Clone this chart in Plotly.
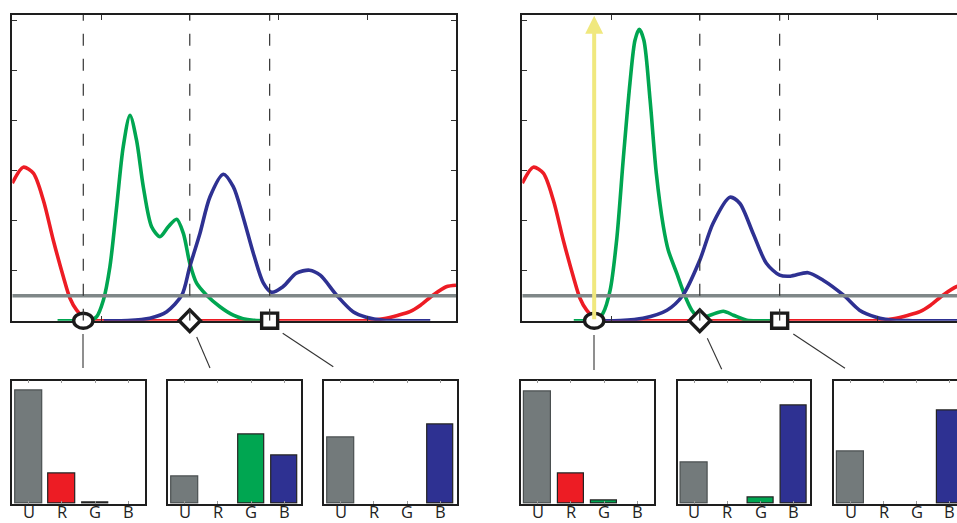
import plotly.graph_objects as go

W, H = 957, 523

# ---------------- data ----------------
red_x = [0, 0.124, 0.237, 0.35, 0.462, 0.575, 0.65, 0.725, 0.84, 0.95, 1.2, 2.0, 3.0, 3.8, 4.0, 4.18, 4.35, 4.48, 4.6, 4.74, 4.89, 5.0]
red_y = [2.75, 3.07, 2.95, 2.41, 1.61, 0.88, 0.45, 0.21, 0.02, 0, 0, 0, 0, 0, 0.005, 0.04, 0.11, 0.18, 0.31, 0.51, 0.68, 0.71]

green_l_x = [0.51, 0.7, 0.88, 0.95, 1.026, 1.10, 1.176, 1.25, 1.326, 1.40, 1.476, 1.57, 1.664, 1.758, 1.852, 1.927, 2.0, 2.077, 2.19, 2.34, 2.49, 2.6, 2.716, 2.9]
green_l_y = [0, 0, 0.01, 0.08, 0.41, 1.08, 2.28, 3.48, 4.11, 3.61, 2.68, 1.88, 1.68, 1.88, 2.03, 1.75, 1.15, 0.75, 0.51, 0.28, 0.11, 0.04, 0.01, 0]

blue_l_x = [1.03, 1.3, 1.55, 1.74, 1.91, 2.0, 2.115, 2.228, 2.378, 2.49, 2.60, 2.716, 2.83, 2.92, 3.05, 3.2, 3.35, 3.47, 3.655, 3.84, 3.99, 4.18, 4.4, 4.71]
blue_l_y = [0, 0.005, 0.05, 0.18, 0.51, 1.08, 1.75, 2.48, 2.93, 2.68, 2.08, 1.35, 0.75, 0.57, 0.68, 0.95, 1.01, 0.91, 0.51, 0.18, 0.07, 0.01, 0, 0]

green_r_x = [0.58, 0.75, 0.84, 0.91, 0.99, 1.063, 1.14, 1.213, 1.27, 1.318, 1.37, 1.44, 1.51, 1.59, 1.645, 1.74, 1.83, 1.91, 2.0, 2.115, 2.265, 2.38, 2.53, 2.7, 2.9]
green_r_y = [0, 0, 0.01, 0.15, 0.61, 1.61, 3.28, 4.75, 5.61, 5.83, 5.61, 4.41, 2.95, 1.88, 1.41, 0.95, 0.51, 0.21, 0.05, 0.11, 0.19, 0.11, 0.01, 0, 0]

blue_r_x = [0.91, 1.1, 1.36, 1.63, 1.81, 2.0, 2.15, 2.34, 2.45, 2.60, 2.75, 2.90, 3.02, 3.22, 3.39, 3.62, 3.80, 3.99, 4.18, 4.4, 4.9]
blue_r_y = [0, 0.005, 0.05, 0.21, 0.51, 1.21, 1.95, 2.47, 2.35, 1.75, 1.15, 0.91, 0.89, 0.96, 0.81, 0.51, 0.21, 0.07, 0.01, 0, 0]

threshold = 0.5

marks_l = [0.8, 2.0, 2.9]      # circle, diamond, square
marks_r = [0.81, 2.0, 2.9]
dashed_l = [0.8, 2.0, 2.9]
dashed_r = [2.0, 2.9]

cats = ["U", "R", "G", "B"]
bars = [
    [0.916, 0.247, 0.012, 0.0],
    [0.217, 0.0, 0.564, 0.393],
    [0.537, 0.0, 0.0, 0.64],
    [0.909, 0.248, 0.024, 0.0],
    [0.334, 0.0, 0.051, 0.795],
    [0.42, 0.0, 0.0, 0.76],
]

C_GRAY_BAR = "#737a7b"
C_RED = "#ed1c24"
C_GREEN = "#00a651"
C_BLUE = "#2e3192"
C_THR = "#7f8788"
C_YEL = "#f0e87e"
bar_cols = [C_GRAY_BAR, C_RED, C_GREEN, C_BLUE]
bar_lines = ["#4a4f50", "#222222", "#222222", "#222222"]

# ---------------- layout geometry (pixels -> paper fractions) ----------------
def pxx(x): return x / W
def pxy(y): return 1 - y / H

TOP_PX, BOT_PX = 14.7, 320.7
top_y = [pxy(BOT_PX), pxy(TOP_PX)]
bot_y = [pxy(503.7), pxy(380.5)]
top_dom = [(12.3, 456.0), (522.3, 957.0)]
bar_dom = [(12.3, 144.7), (168.3, 300.7), (324.3, 456.7), (521.0, 654.0), (677.7, 810.3), (834.0, 957.0)]
UNIT = 88.74
YMAX = 6.12
LABEL_Y = 511.6

def to_paper(panel, xv, yv):
    x0 = top_dom[panel][0]
    return pxx(x0 + xv * UNIT), pxy(BOT_PX - yv * (BOT_PX - TOP_PX) / YMAX)

fig = go.Figure()

def curve(x, y, col, xa, ya):
    fig.add_trace(go.Scatter(x=x, y=y, mode="lines", line=dict(color=col, width=3.6, shape="spline", smoothing=0.8),
                             xaxis=xa, yaxis=ya, hoverinfo="skip"))

# top-left
curve(red_x, red_y, C_RED, "x", "y")
curve(green_l_x, green_l_y, C_GREEN, "x", "y")
curve(blue_l_x, blue_l_y, C_BLUE, "x", "y")
fig.add_trace(go.Scatter(x=[0, 5], y=[threshold, threshold], mode="lines", line=dict(color=C_THR, width=3.4),
                         xaxis="x", yaxis="y", hoverinfo="skip"))
# top-right
curve(red_x, red_y, C_RED, "x2", "y2")
curve(green_r_x, green_r_y, C_GREEN, "x2", "y2")
curve(blue_r_x, blue_r_y, C_BLUE, "x2", "y2")
fig.add_trace(go.Scatter(x=[0, 5], y=[threshold, threshold], mode="lines", line=dict(color=C_THR, width=3.4),
                         xaxis="x2", yaxis="y2", hoverinfo="skip"))

# bars
for i, vals in enumerate(bars):
    k = i + 3
    fig.add_trace(go.Bar(x=[0, 1, 2, 3], y=[v if v > 0 else None for v in vals], width=0.8,
                         marker=dict(color=bar_cols, line=dict(color=bar_lines, width=1.2)),
                         xaxis=f"x{k}", yaxis=f"y{k}", hoverinfo="skip"))

ax_line = dict(showline=True, linecolor="#1e1e1e", linewidth=1.6, showgrid=False, zeroline=False)

lay = dict(width=W, height=H, margin=dict(l=0, r=0, t=0, b=0), paper_bgcolor="white", plot_bgcolor="white",
           showlegend=False, bargap=0)

for j, (d, xr) in enumerate(zip(top_dom, [5.0, (957.0 - 522.3) / UNIT])):
    n = "" if j == 0 else "2"
    lay[f"xaxis{n}"] = dict(domain=[pxx(d[0]), pxx(d[1])], range=[0, xr], anchor=f"y{n}", tickvals=[0, 1, 2, 3, 4, 5],
                            showticklabels=False, ticks="inside", ticklen=5, tickcolor="#333", tickwidth=1,
                            mirror="allticks", **ax_line)
    lay[f"yaxis{n}"] = dict(domain=top_y, range=[0, YMAX], anchor=f"x{n}", tickvals=[0, 1, 2, 3, 4, 5, 6],
                            showticklabels=False, ticks="inside", ticklen=5, tickcolor="#333", tickwidth=1,
                            mirror=("allticks" if j == 0 else False), **ax_line)

annotations = []
for i, d in enumerate(bar_dom):
    k = i + 3
    last = (i == 5)
    xr = [-0.5, -0.5 + 4 * (d[1] - d[0]) / 132.5] if last else [-0.5, 3.5]
    lay[f"xaxis{k}"] = dict(domain=[pxx(d[0]), pxx(d[1])], range=xr, anchor=f"y{k}", tickvals=[0, 1, 2, 3],
                            showticklabels=False, ticks="inside", ticklen=3, tickcolor="#999", tickwidth=1,
                            mirror="allticks", **ax_line)
    lay[f"yaxis{k}"] = dict(domain=bot_y, range=[0, 1], anchor=f"x{k}", showticklabels=False, ticks="",
                            mirror=(False if last else True), **ax_line)
    for ci, c in enumerate(cats):
        annotations.append(dict(x=ci, y=pxy(LABEL_Y), xref=f"x{k}", yref="paper", text=c, showarrow=False,
                                xanchor="center", yanchor="middle", borderpad=0,
                                font=dict(family="Open Sans", size=16.5, color="#222")))

shapes = []
MK_LINE = dict(color="#1a1a1a", width=3.4)
for panel, mk in ((0, marks_l), (1, marks_r)):
    cx, cy = to_paper(panel, mk[0], 0)
    shapes.append(dict(type="circle", xref="paper", yref="paper", xsizemode="pixel", ysizemode="pixel",
                       xanchor=cx, yanchor=cy, x0=-9.6, x1=9.6, y0=-7.5, y1=7.5,
                       line=MK_LINE, fillcolor="white", layer="above"))
    dx, dy = to_paper(panel, mk[1], 0)
    shapes.append(dict(type="path", xref="paper", yref="paper", xsizemode="pixel", ysizemode="pixel",
                       xanchor=dx, yanchor=dy, path="M0,10.8 L10.6,0 L0,-10.8 L-10.6,0 Z",
                       line=MK_LINE, fillcolor="white", layer="above"))
    sx, sy = to_paper(panel, mk[2], 0)
    shapes.append(dict(type="path", xref="paper", yref="paper", xsizemode="pixel", ysizemode="pixel",
                       xanchor=sx, yanchor=sy, path="M-8,-7.6 L8,-7.6 L8,7.6 L-8,7.6 Z",
                       line=MK_LINE, fillcolor="white", layer="above"))

for xv in dashed_l:
    shapes.append(dict(type="line", xref="x", yref="y", x0=xv, x1=xv, y0=0, y1=YMAX,
                       line=dict(color="#333", width=1.2, dash="12px,13px"), layer="above"))
for xv in dashed_r:
    shapes.append(dict(type="line", xref="x2", yref="y2", x0=xv, x1=xv, y0=0, y1=YMAX,
                       line=dict(color="#333", width=1.2, dash="12px,13px"), layer="above"))

connectors = [((83, 334), (83, 368)), ((196.7, 337), (210, 368)), ((282.7, 333.3), (333.3, 366.7)),
              ((594, 335), (594, 370)), ((707.3, 338.3), (721.7, 369.3)), ((793.3, 334), (845, 368.3))]
for (a, b) in connectors:
    shapes.append(dict(type="line", xref="paper", yref="paper", x0=pxx(a[0]), y0=pxy(a[1]), x1=pxx(b[0]), y1=pxy(b[1]),
                       line=dict(color="#333", width=1.1)))
lay["shapes"] = shapes

annotations.append(dict(x=marks_r[0], y=6.1, ax=marks_r[0], ay=0, xref="x2", yref="y2", axref="x2", ayref="y2",
                        text="", showarrow=True, arrowhead=2, arrowsize=0.9, arrowwidth=4, arrowcolor=C_YEL,
                        standoff=0, startstandoff=0))
lay["annotations"] = annotations

fig.update_layout(**lay)
post = ("var d=document.documentElement,b=document.body;"
        "d.style.margin='0';d.style.padding='0';d.style.overflow='hidden';"
        "b.style.margin='0';b.style.padding='0';b.style.overflow='hidden';")
fig.write_html("out.html", config={"displayModeBar": False, "responsive": False}, post_script=post)
